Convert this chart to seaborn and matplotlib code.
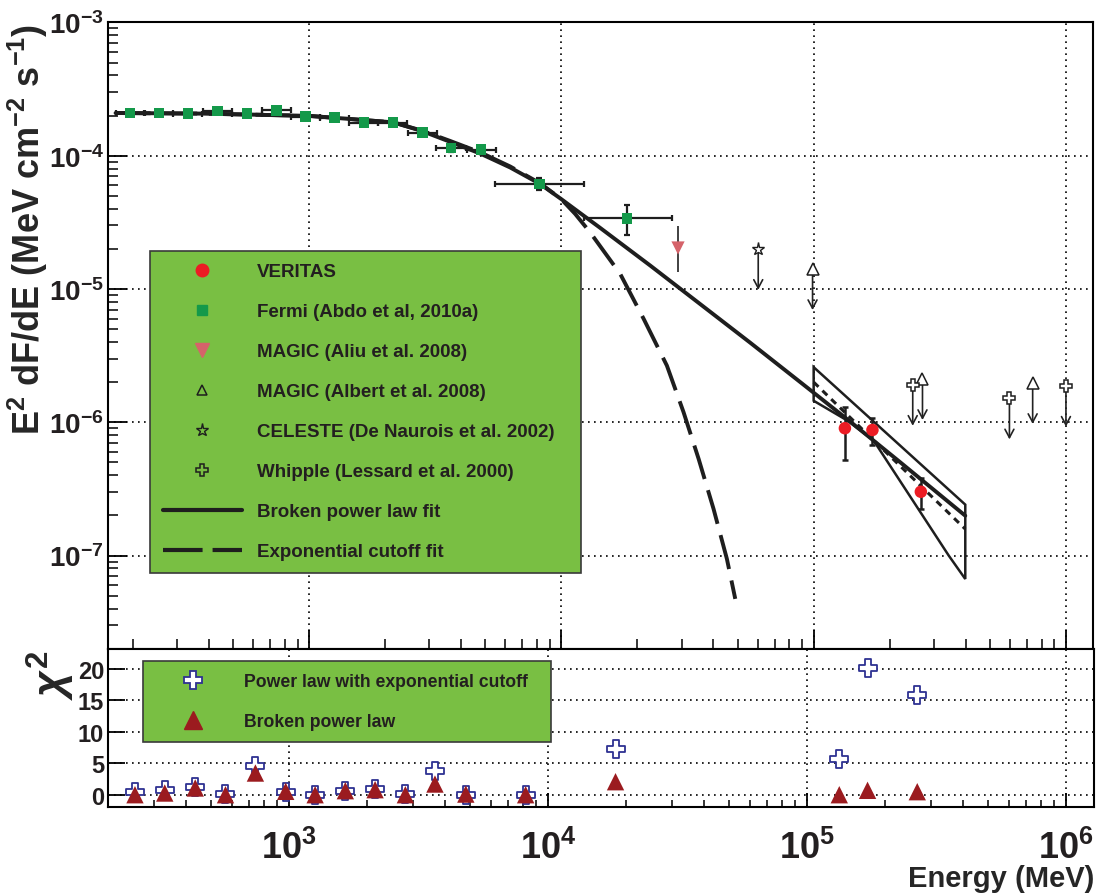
import numpy as np
import pandas as pd
import matplotlib
matplotlib.use("Agg")
import matplotlib.pyplot as plt
import seaborn as sns
from matplotlib.lines import Line2D
from matplotlib.patches import Polygon
from matplotlib.ticker import LogLocator, FuncFormatter, NullFormatter, FixedLocator

# ---------------- data ----------------
# Fermi (Abdo et al 2010a)
fermi_E = [195, 254, 331, 434, 568, 741, 970, 1260, 1648, 2147, 2810, 3656, 4809, 8186, 18200]
fermi_E_lo = [171, 222, 290, 380, 497, 648, 849, 1102, 1442, 1879, 2459, 3199, 4208, 5470, 12240]
fermi_E_hi = [223, 290, 378, 496, 649, 847, 1109, 1440, 1883, 2454, 3212, 4178, 5496, 12300, 27350]
fermi_F = [2.09e-4, 2.09e-4, 2.07e-4, 2.16e-4, 2.07e-4, 2.19e-4, 1.96e-4, 1.93e-4,
           1.77e-4, 1.77e-4, 1.49e-4, 1.14e-4, 1.11e-4, 6.13e-5, 3.39e-5]
fermi_F_lo = [2.0e-4, 2.0e-4, 1.99e-4, 2.08e-4, 2.0e-4, 2.12e-4, 1.9e-4, 1.87e-4,
              1.71e-4, 1.71e-4, 1.43e-4, 1.07e-4, 1.04e-4, 5.5e-5, 2.54e-5]
fermi_F_hi = [2.18e-4, 2.18e-4, 2.15e-4, 2.24e-4, 2.14e-4, 2.26e-4, 2.02e-4, 1.99e-4,
              1.83e-4, 1.83e-4, 1.55e-4, 1.21e-4, 1.18e-4, 6.8e-5, 4.28e-5]

# VERITAS
veritas_E = [1.33e5, 1.71e5, 2.66e5]
veritas_F = [9.02e-7, 8.75e-7, 3.01e-7]
veritas_F_lo = [5.24e-7, 6.76e-7, 2.24e-7]
veritas_F_hi = [1.30e-6, 1.08e-6, 3.80e-7]

# MAGIC (Aliu et al. 2008)
aliu_E = [2.90e4]
aliu_F = [2.03e-5]
aliu_F_lo = [1.35e-5]
aliu_F_hi = [2.95e-5]

# upper limits
celeste_E = [6.03e4]
celeste_F = [2.0e-5]
albert_E = [9.9e4, 2.70e5, 7.38e5]
albert_F = [1.41e-5, 2.11e-6, 1.97e-6]
whipple_E = [2.47e5, 5.97e5, 1.0e6]
whipple_F = [1.91e-6, 1.51e-6, 1.88e-6]

# fits
bpl_E = [171, 370, 1000, 2153, 2805, 3624, 4764, 6266, 8241, 9980,
         14260, 22490, 35480, 56070, 88510, 139700, 220400, 399000]
bpl_F = [2.09e-4, 2.07e-4, 1.99e-4, 1.78e-4, 1.53e-4, 1.27e-4, 1.038e-4, 8.155e-5, 6.13e-5, 4.73e-5,
         2.87e-5, 1.50e-5, 7.71e-6, 3.95e-6, 2.00e-6, 1.01e-6, 5.01e-7, 1.99e-7]
ecpl_E = [171, 370, 1000, 2153, 2805, 3624, 4764, 6266, 8241, 9980,
          11340, 1.30e4, 1.71e4, 2.12e4, 2.62e4, 3.05e4, 3.50e4, 4.01e4, 4.53e4, 4.89e4]
ecpl_F = [2.09e-4, 2.07e-4, 1.99e-4, 1.78e-4, 1.54e-4, 1.29e-4, 1.06e-4, 8.3e-5, 6.2e-5, 4.73e-5,
          3.66e-5, 2.66e-5, 1.30e-5, 5.96e-6, 2.66e-6, 1.19e-6, 5.31e-7, 2.24e-7, 9.44e-8, 4.73e-8]
vpl_E = [1.0e5, 3.99e5]
vpl_F = [2.0e-6, 1.58e-7]
bfly_E = [1.0e5, 3.99e5, 3.99e5, 3.43e5, 1.73e5, 1.36e5, 1.0e5]
bfly_F = [2.59e-6, 2.41e-7, 6.67e-8, 1.0e-7, 7.28e-7, 1.03e-6, 1.45e-6]

# chi2 panel (Fermi bins 2..15 + VERITAS)
chi2_ecpl = [0.38, 0.75, 1.18, 0.1, 4.6, 0.38, 0.0, 0.54, 0.9, 0.1, 3.7, 0.0, 0.0, 7.28, 5.68, 20.1, 15.9]
chi2_bpl = [0.0, 0.27, 1.07, 0.0, 3.45, 0.54, 0.0, 0.64, 0.8, 0.0, 1.7, 0.1, 0.0, 2.07, 0.0, 0.7, 0.48]
chi2_E = fermi_E[1:] + veritas_E

legend_labels = ["VERITAS", "Fermi (Abdo et al, 2010a)", "MAGIC (Aliu et al. 2008)",
                 "MAGIC (Albert et al. 2008)", "CELESTE (De Naurois et al. 2002)",
                 "Whipple (Lessard et al. 2000)", "Broken power law fit", "Exponential cutoff fit"]
chi_labels = ["Power law with exponential cutoff", "Broken power law"]

# ---------------- style ----------------
sns.set_theme(style="white")
plt.rcParams["font.family"] = ["Liberation Sans", "DejaVu Sans"]
plt.rcParams["font.weight"] = "bold"
plt.rcParams["mathtext.fontset"] = "custom"
plt.rcParams["mathtext.rm"] = "Liberation Sans:bold"
plt.rcParams["mathtext.bf"] = "Liberation Sans:bold"
plt.rcParams["mathtext.sf"] = "Liberation Sans:bold"
plt.rcParams["mathtext.it"] = "Liberation Sans:bold:italic"
plt.rcParams["axes.edgecolor"] = "black"
plt.rcParams["axes.linewidth"] = 1.5
plt.rcParams["text.color"] = "#231f20"

GREEN_BOX = "#79bf43"
FERMI = "#14994a"
VRED = "#ec1c24"
PINK = "#d5636a"
CBLUE = "#2e3192"
CRED = "#9b1b1f"
INK = "#1e1e1e"

W, H = 1101, 895
fig = plt.figure(figsize=(W / 100, H / 100), dpi=100)


def px_axes(l, t, r, b):
    return fig.add_axes([l / W, 1 - b / H, (r - l) / W, (b - t) / H])


ax1 = px_axes(108, 23.4, 1093, 650)
ax2 = px_axes(108.3, 650, 1094, 808.3)

fmt_pow = FuncFormatter(lambda v, p: r"$\mathbf{10^{%d}}$" % int(round(np.log10(v))))

for ax in (ax1, ax2):
    ax.set_xscale("log")
    ax.set_axisbelow(True)
    ax.grid(True, which="major", ls=(0, (1, 2.6)), lw=1.2, color="black")
    ax.xaxis.set_major_locator(LogLocator(base=10, numticks=20))
    ax.xaxis.set_minor_locator(LogLocator(base=10, subs=np.arange(2, 10), numticks=20))
    ax.xaxis.set_minor_formatter(NullFormatter())
    ax.tick_params(which="both", direction="in", bottom=True, left=True, top=False, right=False,
                   color="black", labelcolor="#231f20")
    for s in ax.spines.values():
        s.set_color("black")
        s.set_linewidth(1.5)

ax1.set_yscale("log")
ax1.set_xlim(159.6, 1.28e6)
ax1.set_ylim(1.99e-8, 1e-3)
ax1.yaxis.set_major_locator(LogLocator(base=10, numticks=20))
ax1.yaxis.set_minor_locator(LogLocator(base=10, subs=np.arange(2, 10), numticks=20))
ax1.yaxis.set_minor_formatter(NullFormatter())
ax1.yaxis.set_major_formatter(fmt_pow)
ax1.tick_params(axis="x", which="major", length=14, width=1.3, labelbottom=False)
ax1.tick_params(axis="x", which="minor", length=7, width=1.1)
ax1.tick_params(axis="y", which="major", length=14, width=1.3, labelsize=20, pad=3)
ax1.tick_params(axis="y", which="minor", length=7.5, width=1.1)

ax2.set_xlim(200.4, 1.28e6)
ax2.set_ylim(-2.0, 23.18)
ax2.yaxis.set_major_locator(FixedLocator([0, 5, 10, 15, 20]))
ax2.xaxis.set_major_formatter(fmt_pow)
ax2.tick_params(axis="x", which="major", length=10, width=1.3, labelsize=26, pad=16)
ax2.tick_params(axis="x", which="minor", length=5, width=1.1)
ax2.tick_params(axis="y", which="major", length=12, width=1.3, labelsize=17, pad=3)

# ---------------- top panel ----------------
sns.lineplot(x=bpl_E, y=bpl_F, ax=ax1, color=INK, lw=2.8, sort=False, estimator=None, zorder=3)
sns.lineplot(x=ecpl_E, y=ecpl_F, ax=ax1, color=INK, lw=2.8, sort=False, estimator=None,
             linestyle=(0, (9, 3)), zorder=3)
sns.lineplot(x=vpl_E, y=vpl_F, ax=ax1, color=INK, lw=2.2, sort=False, estimator=None,
             linestyle=(0, (2.2, 1.8)), zorder=3)
ax1.add_patch(Polygon(np.column_stack([bfly_E, bfly_F]), closed=True, fill=False,
                      ec=INK, lw=1.8, zorder=3))

fE = np.array(fermi_E)
fF = np.array(fermi_F)
ax1.errorbar(fE, fF,
             xerr=[fE - np.array(fermi_E_lo), np.array(fermi_E_hi) - fE],
             yerr=[fF - np.array(fermi_F_lo), np.array(fermi_F_hi) - fF],
             fmt="none", ecolor=INK, elinewidth=1.6, capsize=2, capthick=1.6, zorder=4)
sns.scatterplot(x=fermi_E, y=fermi_F, ax=ax1, marker="s", s=7.6 ** 2, color=FERMI,
                edgecolor="none", zorder=5)

vE = np.array(veritas_E)
vF = np.array(veritas_F)
ax1.errorbar(vE, vF, yerr=[vF - np.array(veritas_F_lo), np.array(veritas_F_hi) - vF],
             fmt="none", ecolor=INK, elinewidth=1.8, capsize=2.5, capthick=1.8, zorder=4)
sns.scatterplot(x=veritas_E, y=veritas_F, ax=ax1, marker="o", s=9 ** 2, color=VRED,
                edgecolor="none", zorder=6)

aE = np.array(aliu_E)
aF = np.array(aliu_F)
ax1.errorbar(aE, aF, yerr=[aF - np.array(aliu_F_lo), np.array(aliu_F_hi) - aF],
             fmt="none", ecolor="#333333", elinewidth=1.3, capsize=0, zorder=4)
sns.scatterplot(x=aliu_E, y=aliu_F, ax=ax1, marker="v", s=9.5 ** 2, color=PINK,
                edgecolor="none", zorder=5)

arrow_kw = dict(arrowstyle="<-,head_length=0.6,head_width=0.32", lw=1.2, color="#222222",
                shrinkA=0, shrinkB=0, mutation_scale=10)
for E, F in zip(celeste_E + albert_E + whipple_E, celeste_F + albert_F + whipple_F):
    ax1.annotate("", xy=(E, F), xytext=(0, -29.5), textcoords="offset points",
                 arrowprops=arrow_kw, zorder=4)
ax1.plot(celeste_E, celeste_F, ls="none", marker="*", ms=9.5, mfc="white", mec=INK, mew=1.0, zorder=5)
ax1.plot(albert_E, albert_F, ls="none", marker="^", ms=8, mfc="white", mec=INK, mew=1.1, zorder=5)
ax1.plot(whipple_E, whipple_F, ls="none", marker="P", ms=8.5, mfc="white", mec=INK, mew=1.1, zorder=5)

handles = [
    Line2D([], [], ls="none", marker="o", ms=9, mfc=VRED, mec=VRED),
    Line2D([], [], ls="none", marker="s", ms=7.6, mfc=FERMI, mec=FERMI),
    Line2D([], [], ls="none", marker="v", ms=9.5, mfc=PINK, mec=PINK),
    Line2D([], [], ls="none", marker="^", ms=7.5, mfc="none", mec=INK, mew=1.1),
    Line2D([], [], ls="none", marker="*", ms=9.5, mfc="none", mec=INK, mew=1.0),
    Line2D([], [], ls="none", marker="P", ms=8.5, mfc="none", mec=INK, mew=1.1),
    Line2D([], [], color=INK, lw=3.0),
    Line2D([], [], color=INK, lw=3.0, ls=(0, (9.5, 2.4))),
]
leg = ax1.legend(handles, legend_labels, loc="upper left", bbox_to_anchor=(0.0426, 0.6357, 0.438, 0.0),
                 mode="expand", borderaxespad=0, prop={"weight": "bold", "size": 13.5},
                 frameon=True, fancybox=False, facecolor=GREEN_BOX, edgecolor="#3a3a3a",
                 framealpha=1, borderpad=0.67, labelspacing=1.22, handlelength=4.22, handletextpad=0.83)
leg.get_frame().set_linewidth(1.2)
leg.set_zorder(7)

ax1.set_ylabel(r"E$^{2}$ dF/dE (MeV cm$^{-2}$ s$^{-1}$)", fontsize=26, weight="bold", loc="top")
ax1.yaxis.set_label_coords((50 - 108) / 985, 1.0)

# ---------------- chi2 panel ----------------
sns.scatterplot(x=chi2_E, y=chi2_ecpl, ax=ax2, marker="P", s=13 ** 2, color="white",
                edgecolor=CBLUE, linewidth=1.3, zorder=4)
sns.scatterplot(x=chi2_E, y=chi2_bpl, ax=ax2, marker="^", s=12.5 ** 2, color=CRED,
                edgecolor="none", zorder=5)

chi_handles = [
    Line2D([], [], ls="none", marker="P", ms=13, mfc="white", mec=CBLUE, mew=1.3),
    Line2D([], [], ls="none", marker="^", ms=12.5, mfc=CRED, mec=CRED),
]
leg2 = ax2.legend(chi_handles, chi_labels, loc="upper left", bbox_to_anchor=(0.0349, 0.922, 0.414, 0.0),
                  mode="expand", borderaxespad=0, prop={"weight": "bold", "size": 12.7},
                  frameon=True, fancybox=False, facecolor=GREEN_BOX, edgecolor="#3a3a3a",
                  framealpha=1, borderpad=0.68, labelspacing=1.3, handlelength=4.33, handletextpad=0.73)
leg2.get_frame().set_linewidth(1.2)

ax2.set_ylabel(r"$\chi^{2}$", fontsize=32, loc="top")
ax2.yaxis.set_label_coords(-0.032, 1.0)
ax2.set_xlabel("Energy (MeV)", fontsize=21, weight="bold", loc="right")
ax2.xaxis.set_label_coords(1.0, -0.36)

fig.savefig("out.png", dpi=100)
